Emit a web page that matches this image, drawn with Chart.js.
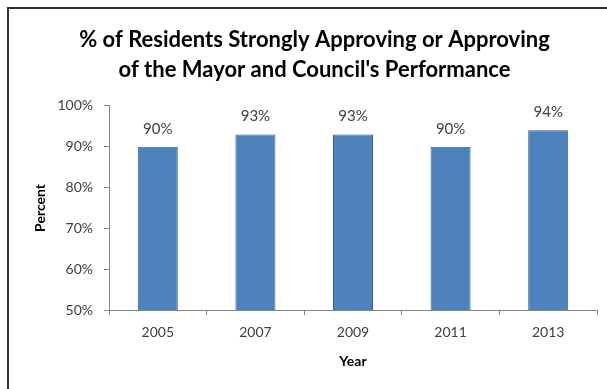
<!DOCTYPE html>
<html>
<head>
<meta charset="utf-8">
<script src="https://cdn.jsdelivr.net/npm/chart.js@4/dist/chart.umd.min.js"></script>
<style>
  html, body { margin: 0; padding: 0; background: #fff; }
  #wrap { position: relative; width: 607px; height: 389px; }
  #frame { position: absolute; left: 7px; top: 7px; right: -4px; bottom: -4px;
           border-top: 2px solid #333; border-left: 2px solid #333; pointer-events: none; }
  canvas { position: absolute; left: 0; top: 0; }
</style>
</head>
<body>
<div id="wrap">
  <canvas id="c" width="607" height="389"></canvas>
  <div id="frame"></div>
</div>
<script>
// Survey years and approval share (percent)
const years = ['2005', '2007', '2009', '2011', '2013'];
const approval = [90, 93, 93, 90, 94];
const yTicks = [50, 60, 70, 80, 90, 100];

const titleLines = [
  '% of Residents Strongly Approving or Approving',
  "of the Mayor and Council's Performance"
];

const FONT = "Lato, 'Open Sans', 'Liberation Sans', sans-serif";

// Writes the percentage above each bar
const valueLabels = {
  id: 'valueLabels',
  afterDatasetsDraw(chart) {
    const ctx = chart.ctx;
    const meta = chart.getDatasetMeta(0);
    ctx.save();
    ctx.font = '15px ' + FONT;
    ctx.fillStyle = '#404040';
    ctx.textAlign = 'center';
    ctx.textBaseline = 'middle';
    meta.data.forEach((bar, i) => {
      ctx.fillText(approval[i] + '%', bar.x, bar.y - 18);
    });
    ctx.restore();
  }
};

new Chart(document.getElementById('c'), {
  type: 'bar',
  data: {
    labels: years,
    datasets: [{
      data: approval,
      backgroundColor: '#4F81BD',
      borderColor: '#3A5F8B',
      borderWidth: 1,
      borderSkipped: false,
      barPercentage: 0.41,
      categoryPercentage: 1.0
    }]
  },
  options: {
    responsive: false,
    animation: false,
    layout: { padding: { left: 32, right: 10, top: 10, bottom: 17 } },
    plugins: {
      legend: { display: false },
      tooltip: { enabled: false },
      title: {
        display: true,
        text: titleLines,
        color: '#000',
        font: { family: FONT, size: 22, weight: 'bold', lineHeight: 1.36 },
        padding: { top: 15, bottom: 21 }
      }
    },
    scales: {
      x: {
        offset: true,
        grid: { display: true, drawOnChartArea: false, offset: true, tickLength: 5, color: '#868686' },
        border: { color: '#868686' },
        ticks: { color: '#404040', font: { family: FONT, size: 14 }, padding: 9 },
        title: { display: true, text: 'Year', color: '#000',
                 font: { family: FONT, size: 14, weight: 'bold' }, padding: { top: 4, bottom: 2 } },
        afterFit(scale) { scale.height = 62; }
      },
      y: {
        min: 50,
        max: 100,
        afterBuildTicks(scale) { scale.ticks = yTicks.map(v => ({ value: v })); },
        grid: { display: true, drawOnChartArea: false, tickLength: 5, color: '#868686' },
        border: { color: '#868686' },
        ticks: { color: '#404040', font: { family: FONT, size: 14 }, padding: 11,
                 callback: v => v + '%' },
        title: { display: true, text: 'Percent', color: '#000',
                 font: { family: FONT, size: 14, weight: 'bold' }, padding: { top: 0, bottom: 4 } },
        afterFit(scale) { scale.width = 77; }
      }
    }
  },
  plugins: [valueLabels]
});
</script>
</body>
</html>
